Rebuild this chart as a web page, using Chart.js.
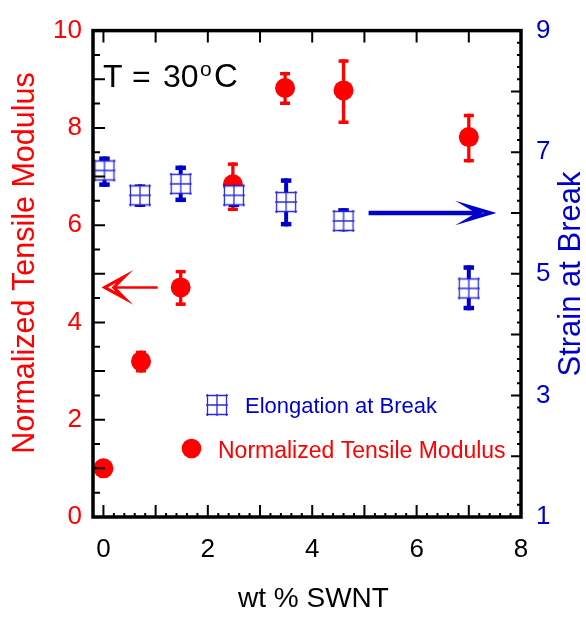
<!DOCTYPE html>
<html><head><meta charset="utf-8">
<script src="https://cdn.jsdelivr.net/npm/chart.js@4.4.1/dist/chart.umd.min.js"></script>
<style>html,body{margin:0;padding:0;background:#fff;}canvas{display:block;}</style>
</head><body>
<canvas id="c" width="586" height="619"></canvas>
<script>
// ---- tick labels ----
const xTickLabels = [0, 2, 4, 6, 8];
const leftTickLabels = [0, 2, 4, 6, 8, 10];
const rightTickLabels = [1, 3, 5, 7, 9];

// ---- Normalized Tensile Modulus (left axis) ----
const modulusX    = [0, 0.72, 1.48, 2.48, 3.48, 4.6, 7.0];
const modulus     = [1.0, 3.2, 4.72, 6.84, 8.82, 8.77, 7.81];
const modulusLow  = [1.0, 2.97, 4.34, 6.29, 8.47, 8.08, 7.29];
const modulusHigh = [1.0, 3.42, 5.08, 7.29, 9.15, 9.41, 8.29];

// ---- Elongation / Strain at Break (right axis) ----
const strainX    = [0.02, 0.7, 1.48, 2.5, 3.5, 4.6, 7.0];
const strain     = [6.70, 6.29, 6.48, 6.29, 6.18, 5.87, 4.76];
const strainLow  = [6.43, 6.10, 6.18, 6.10, 5.78, 5.70, 4.40];
const strainHigh = [6.93, 6.47, 6.78, 6.42, 6.57, 6.08, 5.14];

const RED = '#ff0000', BLUE = '#0000cc';
const FONT = '"Liberation Sans", Arial, Helvetica, sans-serif';

function makeBoxMarker() {
  const s = 26, c = document.createElement('canvas');
  c.width = s; c.height = s;
  const g = c.getContext('2d');
  const h = 9.5, e = 1.5, m = s / 2;
  g.fillStyle = '#fff';
  g.fillRect(m - h, m - h, 2 * h, 2 * h);
  g.strokeStyle = 'rgba(20,20,215,0.9)';
  g.lineWidth = 1.3;
  g.beginPath();
  for (const d of [-h, 0, h]) {
    g.moveTo(m + d, m - h - e); g.lineTo(m + d, m + h + e);
    g.moveTo(m - h - e, m + d); g.lineTo(m + h + e, m + d);
  }
  g.stroke();
  return c;
}
const boxMarker = makeBoxMarker();

const errorBars = {
  id: 'errorBars',
  beforeDatasetDraw(chart, args) {
    const ds = chart.data.datasets[args.index];
    const eb = ds.errorBars; if (!eb) return;
    const xs = chart.scales.x, ys = chart.scales[ds.yAxisID];
    const ctx = chart.ctx;
    ctx.save();
    ctx.strokeStyle = eb.color; ctx.fillStyle = eb.color;
    ds.data.forEach((p, i) => {
      const lo = eb.low[i], hi = eb.high[i];
      if (lo === hi) return;
      const px = xs.getPixelForValue(p.x);
      const y1 = ys.getPixelForValue(hi), y2 = ys.getPixelForValue(lo);
      ctx.lineWidth = eb.width;
      ctx.beginPath(); ctx.moveTo(px, y1); ctx.lineTo(px, y2); ctx.stroke();
      ctx.fillRect(px - eb.cap / 2, y1, eb.cap, eb.capT);
      ctx.fillRect(px - eb.cap / 2, y2 - eb.capT, eb.cap, eb.capT);
    });
    ctx.restore();
  }
};

function arrowHead(ctx, tipX, tipY, dir, len, half, notch) {
  ctx.beginPath();
  ctx.moveTo(tipX, tipY);
  ctx.lineTo(tipX + dir * len, tipY - half);
  ctx.lineTo(tipX + dir * notch, tipY);
  ctx.lineTo(tipX + dir * len, tipY + half);
  ctx.closePath();
  ctx.stroke();
}

const decor = {
  id: 'decor',
  afterDatasetsDraw(chart) {
    const ctx = chart.ctx, a = chart.chartArea;
    const xs = chart.scales.x, yl = chart.scales.y, yr = chart.scales.y2;
    ctx.save();
    // ticks (inward)
    ctx.strokeStyle = '#000';
    ctx.lineWidth = 2;
    ctx.beginPath();
    for (let v = 0; v <= 80; v += 2) {
      const val = v / 10, px = xs.getPixelForValue(val);
      const major = v % 10 === 0;
      const L = major ? 12 : 4;
      ctx.moveTo(px, a.bottom); ctx.lineTo(px, a.bottom - L);
      if (major) { ctx.moveTo(px, a.top); ctx.lineTo(px, a.top + 12); }
    }
    for (let v = 0; v <= 20; v++) {
      const py = yl.getPixelForValue(v / 2);
      const L = v % 2 === 0 ? 12 : 7;
      ctx.moveTo(a.left, py); ctx.lineTo(a.left + L, py);
    }
    for (let v = 10; v <= 90; v += 2) {
      const py = yr.getPixelForValue(v / 10);
      const L = v % 10 === 0 ? 10 : 4;
      ctx.moveTo(a.right, py); ctx.lineTo(a.right - L, py);
    }
    ctx.stroke();
    // frame
    ctx.lineWidth = 3.5;
    ctx.strokeRect(a.left, a.top, a.right - a.left, a.bottom - a.top);

    // red arrow (points to left axis)
    const ry = yl.getPixelForValue(4.72);
    const rTip = xs.getPixelForValue(0.005), rEnd = xs.getPixelForValue(1.04);
    ctx.strokeStyle = RED; ctx.lineWidth = 2.5;
    ctx.beginPath(); ctx.moveTo(rTip + 10, ry); ctx.lineTo(rEnd, ry); ctx.stroke();
    ctx.lineWidth = 3; ctx.lineJoin = 'miter';
    arrowHead(ctx, rTip + 1, ry, 1, 20, 11, 9);

    // blue arrow (points to right axis)
    const by = yr.getPixelForValue(6.0);
    const bStart = xs.getPixelForValue(5.08), bTip = xs.getPixelForValue(7.45);
    ctx.strokeStyle = BLUE; ctx.lineWidth = 4.5;
    ctx.beginPath(); ctx.moveTo(bStart, by); ctx.lineTo(bTip - 12, by); ctx.stroke();
    ctx.lineWidth = 3.5;
    arrowHead(ctx, bTip - 2, by, -1, 22, 6.5, 11);

    // T = 30 oC
    ctx.fillStyle = '#000';
    ctx.textBaseline = 'alphabetic';
    ctx.textAlign = 'left';
    ctx.font = '32px ' + FONT;
    ctx.fillText('T', 103, 87);
    ctx.fillText('=', 132, 87);
    ctx.fillText('30', 163, 87);
    ctx.font = '21px ' + FONT;
    ctx.fillText('o', 200, 76);
    ctx.font = '33px ' + FONT;
    ctx.fillText('C', 214, 87);

    // legend
    ctx.drawImage(boxMarker, 217 - boxMarker.width / 2, 405 - boxMarker.height / 2);
    ctx.fillStyle = BLUE; ctx.font = '22px ' + FONT;
    ctx.fillText('Elongation at Break', 245, 413);
    ctx.fillStyle = RED;
    ctx.beginPath(); ctx.arc(191.5, 448.5, 9.8, 0, Math.PI * 2); ctx.fill();
    ctx.font = '23px ' + FONT;
    ctx.fillText('Normalized Tensile Modulus', 218, 458);

    // axis titles
    ctx.textAlign = 'center'; ctx.textBaseline = 'middle';
    ctx.save();
    ctx.translate(26, 263); ctx.rotate(-Math.PI / 2);
    ctx.fillStyle = RED; ctx.font = '30.5px ' + FONT;
    ctx.fillText('Normalized Tensile Modulus', 0, 0);
    ctx.restore();
    ctx.save();
    ctx.translate(571, 274); ctx.rotate(-Math.PI / 2);
    ctx.fillStyle = BLUE; ctx.font = '31px ' + FONT;
    ctx.fillText('Strain at Break', 0, 0);
    ctx.restore();
    ctx.fillStyle = '#000'; ctx.font = '28px ' + FONT;
    ctx.textAlign = 'left'; ctx.textBaseline = 'alphabetic';
    ctx.fillText('wt % SWNT', 238, 607);
    ctx.restore();
  }
};

const toPts = (xs, ys) => xs.map((x, i) => ({ x: x, y: ys[i] }));

new Chart(document.getElementById('c'), {
  type: 'scatter',
  data: {
    datasets: [
      {
        label: 'Elongation at Break',
        data: toPts(strainX, strain),
        yAxisID: 'y2',
        pointStyle: boxMarker,
        pointRadius: 10,
        clip: false,
        errorBars: { low: strainLow, high: strainHigh, color: BLUE, width: 4, cap: 10.5, capT: 4.5 }
      },
      {
        label: 'Normalized Tensile Modulus',
        data: toPts(modulusX, modulus),
        yAxisID: 'y',
        pointStyle: 'circle',
        pointRadius: 10,
        backgroundColor: RED,
        borderWidth: 0,
        clip: false,
        errorBars: { low: modulusLow, high: modulusHigh, color: RED, width: 3.3, cap: 10, capT: 3.5 }
      }
    ]
  },
  options: {
    responsive: false,
    animation: false,
    devicePixelRatio: 1,
    layout: { padding: { top: 26, left: 0, right: 0, bottom: 0 } },
    plugins: { legend: { display: false }, tooltip: { enabled: false } },
    scales: {
      x: {
        type: 'linear', position: 'bottom', min: -0.2, max: 8,
        afterBuildTicks: s => { s.ticks = xTickLabels.map(v => ({ value: v })); },
        afterFit: s => { s.height = 102; },
        grid: { display: false, drawTicks: false },
        border: { display: false },
        ticks: { color: '#000', font: { family: FONT, size: 26, lineHeight: 1 }, padding: 20, maxRotation: 0, autoSkip: false },
        title: { display: false }
      },
      y: {
        type: 'linear', position: 'left', min: 0, max: 10,
        afterBuildTicks: s => { s.ticks = leftTickLabels.map(v => ({ value: v })); },
        afterFit: s => { s.width = 93; },
        grid: { display: false, drawTicks: false },
        border: { display: false },
        ticks: { color: RED, font: { family: FONT, size: 26 }, padding: 11, autoSkip: false },
        title: { display: false }
      },
      y2: {
        type: 'linear', position: 'right', min: 1, max: 9,
        afterBuildTicks: s => { s.ticks = rightTickLabels.map(v => ({ value: v })); },
        afterFit: s => { s.width = 65; },
        grid: { display: false, drawTicks: false },
        border: { display: false },
        ticks: { color: BLUE, font: { family: FONT, size: 26 }, padding: 15, autoSkip: false },
        title: { display: false }
      }
    }
  },
  plugins: [errorBars, decor]
});
</script>
</body></html>
